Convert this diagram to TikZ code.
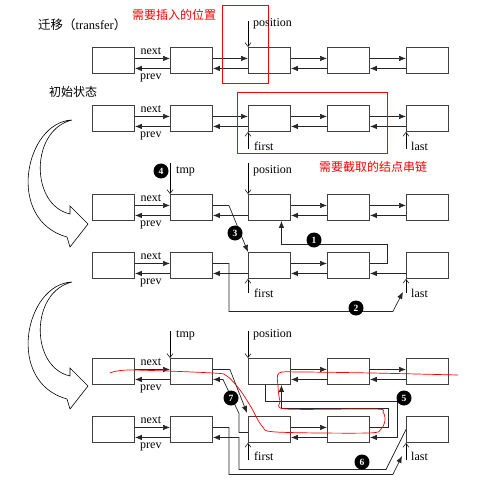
\documentclass[tikz,border=0pt]{standalone}
\usepackage{fontspec}
\setmainfont{Liberation Serif}
\newfontfamily\cjk{Noto Sans CJK SC}
\usetikzlibrary{arrows.meta}

\tikzset{
  cell/.style={draw=black!75, line width=0.9pt, minimum width=42pt,
    minimum height=26pt, inner sep=0pt, anchor=north west},
  link/.style={draw=black!85, line width=0.7pt, -{Latex[length=7pt,width=5.5pt]}},
  ptr/.style={draw=black, line width=0.5pt, -{Straight Barb[length=4pt,width=6pt]}},
  lbl/.style={inner sep=1pt, font=\fontsize{12}{14}\selectfont},
  stepno/.style={circle, fill=black, text=white, inner sep=0pt, minimum size=15pt,
    font=\fontsize{9.5}{10}\selectfont\bfseries},
  marker/.style={draw=red, line width=0.8pt},
  bigarrow/.style={draw=black, line width=0.6pt, fill=white},
}

\begin{document}
\begin{tikzpicture}[x=1pt,y=-1pt]
    \useasboundingbox (0,0) rectangle (489,494);

    % the list cells, row by row
    \foreach \r/\y in {1/47,2/105,3/194,4/252,5/358,6/416}
      \foreach \c/\x in {1/92,2/170,3/248,4/327,5/406}
        \node[cell] (b\r\c) at (\x,\y) {};

    % next and prev links that stay in place
    \foreach \a/\b in {11/12,12/13,13/14,14/15,21/22,22/23,23/24,24/25,
                       31/32,33/34,34/35,41/42,43/44,51/52,53/54,54/55,61/62,63/64}
      \draw[link] ([yshift=2pt]b\a.east) -- ([yshift=2pt]b\b.west);
    \foreach \a/\b in {11/12,12/13,13/14,14/15,21/22,22/23,23/24,24/25,
                       31/32,32/33,33/34,34/35,41/42,42/43,43/44,44/45,
                       51/52,53/54,54/55,61/62,63/64}
      \draw[link] ([yshift=-8pt]b\b.west) -- ([yshift=-8pt]b\a.east);

    % next / prev labels
    \foreach \r in {1,...,6} {
      \node[lbl] (nx\r) at ([shift={(16pt,-4pt)}]b\r1.north east) {next};
      \node[lbl] (pv\r) at ([shift={(16pt,-4pt)}]b\r1.south east) {prev};
    }

    % titles
    \node[anchor=west, inner sep=0pt, font=\fontsize{12.5}{14}\selectfont] (title)
      at (38,25) {{\cjk 迁移（}transfer{\cjk ）}};
    \node[anchor=west, inner sep=0pt, font=\cjk\fontsize{12}{14}\selectfont] (init)
      at (49,92) {初始状态};
    \node[text=red, inner sep=0pt, font=\cjk\fontsize{12}{14}\selectfont] (insnote)
      at (174,15) {需要插入的位置};
    \node[text=red, inner sep=0pt, font=\cjk\fontsize{12}{14}\selectfont] (cutnote)
      at (373,167) {需要截取的结点串链};

    % red frames
    \draw[marker] (222,5) rectangle (268,83);
    \draw[marker] (237,92) rectangle (387,153);

    % pointers: position, tmp, first, last
    \node[lbl, anchor=west] (pos1) at (252,24) {position};
    \draw[ptr] ([yshift=26pt]b13.north west) -- (b13.north west);
    \node[lbl, anchor=west] (pos3) at (252,171) {position};
    \draw[ptr] ([yshift=31pt]b33.north west) -- (b33.north west);
    \node[lbl, anchor=west] (pos5) at (252,335) {position};
    \draw[ptr] ([yshift=27pt]b53.north west) -- (b53.north west);
    \node[lbl, anchor=west] (tmp3) at (175,171) {tmp};
    \draw[ptr] ([yshift=31pt]b32.north west) -- (b32.north west);
    \node[lbl, anchor=west] (tmp5) at (175,335) {tmp};
    \draw[ptr] ([yshift=27pt]b52.north west) -- (b52.north west);

    \foreach \r/\d/\ly in {2/17/146,4/14/293,6/17/456} {
      \node[lbl, anchor=west] (fst\r) at (253,\ly) {first};
      \draw[ptr] ([yshift=-\d pt]b\r3.south west) -- (b\r3.south west);
      \node[lbl, anchor=west] (lst\r) at (410,\ly) {last};
      \draw[ptr] ([yshift=-\d pt]b\r5.south west) -- (b\r5.south west);
    }

    % steps 1 - 4
    \draw[link] ([yshift=2pt]b44.east) -| ++(17,-19) -| ([xshift=12pt]b33.south);
    \draw[link] ([yshift=2pt]b42.east) -| ++(16,48) -- ++(164,0)
                -- ([shift={(-3pt,-13pt)}]b45.south west);
    \draw[link] ([yshift=2pt]b32.east) -- ++(16,0) -- (b43.north west);

    % steps 5 - 7, with 1 - 3 kept
    \draw[link] ([xshift=-4pt]b53.south) |- ++(132,16) |- ([yshift=-8pt]b64.east);
    \draw[link] ([yshift=2pt]b64.east) -| ++(18,-19) -| ([xshift=12pt]b53.south);
    \draw[link] ([yshift=2pt]b52.east) -- ++(17,0) -- ([shift={(-1pt,3pt)}]b63.north west);
    \draw[link] ([yshift=-3pt]b63.west) -- ++(-9,0) -- ++(0,-19) -- ++(-16,-34)
                -- ([yshift=-8pt]b52.east);
    \draw[link] (b65.west) -- ++(-20,40) -- ++(-147,0) |- ([yshift=-8pt]b62.east);
    \draw[link] ([yshift=2pt]b62.east) -| ++(16,47) -- ++(164,0)
                -- ([shift={(-4pt,-13pt)}]b65.south west);

    % step numbers
    \foreach \n/\p in {1/{(314,240)},2/{(356,308)},3/{(235,233)},4/{(161,171)},
                       5/{(404,398)},6/{(362,462)},7/{(231,398)}}
      \node[stepno] (s\n) at \p {\n};

    % the red trace of the new chain
    \draw[red, line width=0.7pt] plot[smooth, tension=0.5] coordinates {
      (110,373) (130,370) (213,373) (227,376) (240,390) (251,407) (262,426)
      (276,432) (368,433) (381,429) (385,420) (383,412) (375,409) (286,409)
      (280,401) (278,386) (279,373) (300,372) (372,373) (458,375)};

    % big curved arrows
    \foreach \dy in {0,162}
      \draw[bigarrow, yshift=-\dy pt] (72,120) .. controls (25,122) and (5,220) .. (67,237)
        -- (70,247) -- (88,224) -- (70,206) -- (70,214)
        .. controls (30,205) and (30,130) .. (72,120) -- cycle;
\end{tikzpicture}
\end{document}
